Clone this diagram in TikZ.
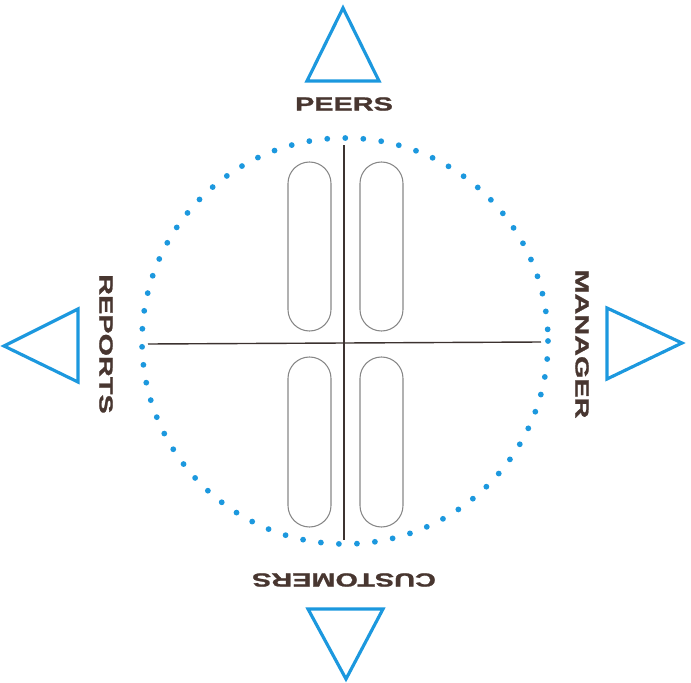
\documentclass[tikz,border=0pt]{standalone}
\usepackage{xcolor}
\usepackage{fontspec}
\usepackage{tikz}
\usetikzlibrary{positioning}
\usetikzlibrary{calc}

\newfontfamily\lblfont[Extension=.ttf, UprightFont=*-Bold,
  FakeStretch=1.52, FakeBold=1.3]{LiberationSans}
\definecolor{relblue}{RGB}{28,152,222}
\definecolor{relbrown}{RGB}{72,54,48}
\definecolor{relgrey}{RGB}{135,135,135}
\definecolor{relaxis}{RGB}{60,50,48}

\begin{document}
\begin{tikzpicture}[
  x=0.02cm, y=-0.02cm,
  pointer/.style={draw=relblue, line width=1.8pt, line join=miter},
  rolelabel/.style={text=relbrown, inner sep=0pt,
    font=\lblfont\fontsize{10.8}{12}\selectfont},
  slot/.style={draw=relgrey, line width=0.6pt, rounded corners=0.43cm},
  axis/.style={draw=relaxis, line width=0.8pt},
]
  \useasboundingbox (0,0) rectangle (691,683);

  % dotted ring
  \draw[relblue, line width=3.3pt, line cap=round, dash pattern=on 0pt off 0.3612cm]
    (345,341) circle[radius=203];

  % cross
  \coordinate (top) at (344,145);
  \coordinate (bot) at (344,540);
  \coordinate (lft) at (148,344);
  \coordinate (rgt) at (541,342);
  \draw[axis] (top) -- (bot);
  \draw[axis] (lft) -- (rgt);

  % slots
  \draw[slot] (288,162) rectangle (331,331);
  \draw[slot] (360,162) rectangle (403,331);
  \draw[slot] (288,357) rectangle (331,527);
  \draw[slot] (360,357) rectangle (403,527);

  % pointers
  \draw[pointer] (343,8) -- (379,81) -- (307,81) -- cycle;
  \draw[pointer] (346,679) -- (383,609) -- (308,609) -- cycle;
  \draw[pointer] (4,346) -- (78,309) -- (78,382) -- cycle;
  \draw[pointer] (682,343) -- (607,308) -- (607,379) -- cycle;

  % labels
  \node[rolelabel] (peers) at (344,104) {PEERS};
  \node[rolelabel, rotate=180] (customers) at (344,580) {CUSTOMERS};
  \node[rolelabel, rotate=-90] (reports) at (106,344) {REPORTS};
  \node[rolelabel, rotate=-90] (manager) at (582,344) {MANAGER};
\end{tikzpicture}
\end{document}
